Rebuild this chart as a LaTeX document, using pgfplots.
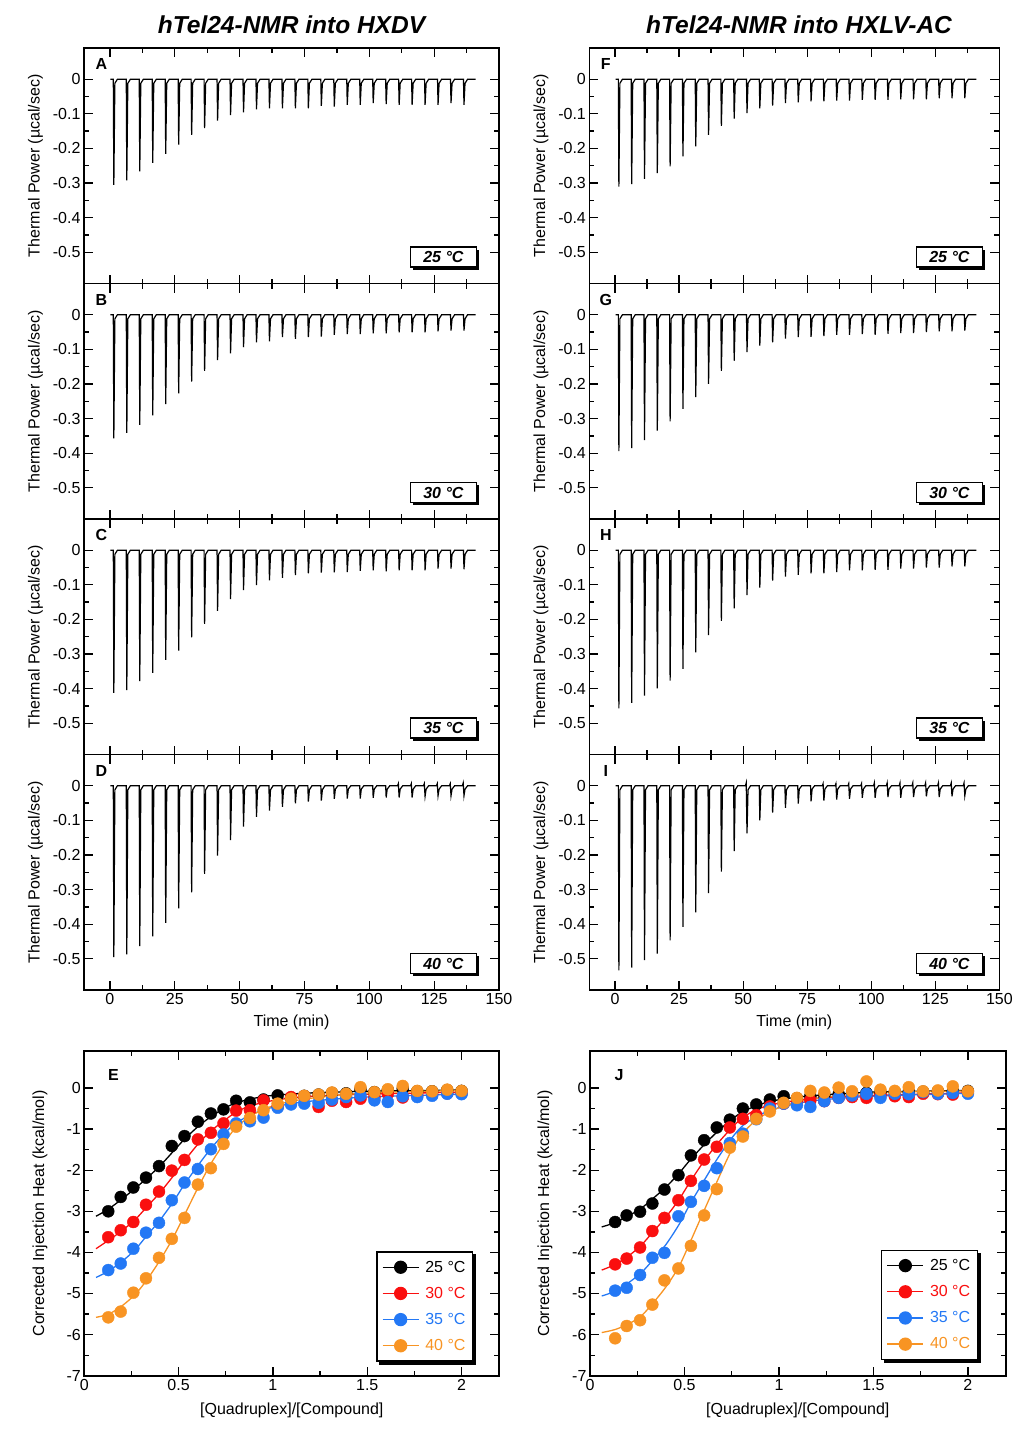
\documentclass[border=0pt]{standalone}
\usepackage{fontspec}
\setmainfont{Liberation Sans}
\usepackage{pgfplots}
\pgfplotsset{compat=1.18}
\usetikzlibrary{shadows}
\definecolor{cred}{RGB}{250,15,15}
\definecolor{cblue}{RGB}{35,120,245}
\definecolor{corange}{RGB}{248,148,35}
\newcommand{\tl}{\fontsize{16}{19}\selectfont}
\newcommand{\lb}{\fontsize{16}{19}\selectfont}
\tikzset{
  tbox/.style={draw=black, line width=1.3pt, fill=white, minimum width=66pt, minimum height=20pt, inner sep=0pt,
    font=\lb\bfseries\itshape, drop shadow={shadow xshift=2.5pt,shadow yshift=-2.5pt,opacity=1,fill=black}},
  plet/.style={font=\lb\bfseries},
}
\pgfplotsset{
  base/.style={scale only axis, anchor=north west,
    axis line style={line width=1.8pt},
    tick style={line width=1.3pt, black},
    major tick length=9pt, minor tick length=5pt,
    /pgf/number format/assume math mode=true,
    tick label style={font=\tl},
    label style={font=\lb},
  },
  thermo/.style={base, height=235.5pt,
    xmin=-10, xmax=150, ymin=-0.59, ymax=0.09,
    xtick={0,25,50,75,100,125,150}, minor x tick num=1,
    ytick={-0.5,-0.4,-0.3,-0.2,-0.1,0}, minor y tick num=1,
    ylabel={Thermal Power (µcal/sec)},
    xlabel={Time (min)},
    xlabel style={at={(axis description cs:0.5,-0.139)},anchor=center},
  },
  nox/.style={xticklabels={}, xlabel={}},
  tline/.style={black, line width=1.2pt},
  iso/.style={base, height=324.7pt,
    xmin=0, xmax=2.2, ymin=-7, ymax=0.9,
    xtick={0,0.5,1,1.5,2}, minor x tick num=1,
    ytick={-7,-6,-5,-4,-3,-2,-1,0}, minor y tick num=1,
    xlabel={[Quadruplex]/[Compound]},
    ylabel={Corrected Injection Heat (kcal/mol)},
    xlabel style={at={(axis description cs:0.5,-0.108)},anchor=center},
    legend cell align=left,
    legend image code/.code={\draw[mark repeat=2,mark phase=2] plot coordinates {(0pt,0pt)(18pt,0pt)(36pt,0pt)};},
  },
  leg/.style={legend style={draw=black, line width=1.3pt,
    fill=white, font=\lb, inner xsep=5pt, inner ysep=7pt, row sep=9.5pt,
    /tikz/every odd column/.append style={column sep=4pt}}},
  fit/.style={line width=1.3pt, smooth, forget plot},
  pts/.style={only marks, mark=*, mark size=6pt, forget plot},
}
\begin{document}
\begin{tikzpicture}
\useasboundingbox (0pt,0pt) rectangle (1029pt,-1436pt);
\node[font=\fontsize{24.5}{28}\selectfont\bfseries\itshape] at (291.5pt,-24.5pt) {hTel24-NMR into HXDV};
\node[font=\fontsize{24.5}{28}\selectfont\bfseries\itshape] at (799pt,-24.5pt) {hTel24-NMR into HXLV-AC};

%% ---------------- A
\begin{axis}[thermo, nox, at={(84pt,-48pt)}, width=415pt,
  ylabel style={at={(axis description cs:-0.117,0.5)},anchor=center}]
\addplot[tline] coordinates {(0.2,0)
(1.3,0)(1.5,-0.305)(1.9,-0.012)(2.9,0)
(6.3,0)(6.5,-0.292)(6.9,-0.012)(7.9,0)
(11.3,0)(11.5,-0.266)(11.9,-0.012)(12.9,0)
(16.3,0)(16.5,-0.242)(16.9,-0.012)(17.9,0)
(21.3,0)(21.5,-0.216)(21.9,-0.012)(22.9,0)
(26.3,0)(26.5,-0.189)(26.9,-0.012)(27.9,0)
(31.3,0)(31.5,-0.161)(31.9,-0.012)(32.9,0)
(36.3,0)(36.5,-0.141)(36.9,-0.012)(37.9,0)
(41.3,0)(41.5,-0.120)(41.9,-0.012)(42.9,0)
(46.3,0)(46.5,-0.104)(46.9,-0.012)(47.9,0)
(51.3,0)(51.5,-0.096)(51.9,-0.012)(52.9,0)
(56.3,0)(56.5,-0.087)(56.9,-0.012)(57.9,0)
(61.3,0)(61.5,-0.084)(61.9,-0.012)(62.9,0)
(66.3,0)(66.5,-0.084)(66.9,-0.012)(67.9,0)
(71.3,0)(71.5,-0.084)(71.9,-0.012)(72.9,0)
(76.3,0)(76.5,-0.084)(76.9,-0.012)(77.9,0)
(81.3,0)(81.5,-0.077)(81.9,-0.012)(82.9,0)
(86.3,0)(86.5,-0.079)(86.9,-0.012)(87.9,0)
(91.3,0)(91.5,-0.074)(91.9,-0.012)(92.9,0)
(96.3,0)(96.5,-0.074)(96.9,-0.012)(97.9,0)
(101.3,0)(101.5,-0.069)(101.9,-0.012)(102.9,0)
(106.3,0)(106.5,-0.072)(106.9,-0.012)(107.9,0)
(111.3,0)(111.5,-0.074)(111.9,-0.012)(112.9,0)
(116.3,0)(116.5,-0.074)(116.9,-0.012)(117.9,0)
(121.3,0)(121.5,-0.074)(121.9,-0.012)(122.9,0)
(126.3,0)(126.5,-0.074)(126.9,-0.012)(127.9,0)
(131.3,0)(131.5,-0.069)(131.9,-0.012)(132.9,0)
(136.3,0)(136.5,-0.074)(136.9,-0.012)(137.9,0)
(141,0)};
\node[plet] at (axis description cs:0.042,0.932) {A};
\node[tbox] at (axis description cs:0.866,0.1125) {25 °C};
\end{axis}

%% ---------------- B
\begin{axis}[thermo, nox, at={(84pt,-283.5pt)}, width=415pt,
  ylabel style={at={(axis description cs:-0.117,0.5)},anchor=center}]
\addplot[tline] coordinates {(0.2,0)
(1.3,0)(1.5,-0.357)(1.9,-0.012)(2.9,0)
(6.3,0)(6.5,-0.341)(6.9,-0.012)(7.9,0)
(11.3,0)(11.5,-0.318)(11.9,-0.012)(12.9,0)
(16.3,0)(16.5,-0.291)(16.9,-0.012)(17.9,0)
(21.3,0)(21.5,-0.258)(21.9,-0.012)(22.9,0)
(26.3,0)(26.5,-0.227)(26.9,-0.012)(27.9,0)
(31.3,0)(31.5,-0.193)(31.9,-0.012)(32.9,0)
(36.3,0)(36.5,-0.162)(36.9,-0.012)(37.9,0)
(41.3,0)(41.5,-0.131)(41.9,-0.012)(42.9,0)
(46.3,0)(46.5,-0.112)(46.9,-0.012)(47.9,0)
(51.3,0)(51.5,-0.094)(51.9,-0.012)(52.9,0)
(56.3,0)(56.5,-0.080)(56.9,-0.012)(57.9,0)
(61.3,0)(61.5,-0.077)(61.9,-0.012)(62.9,0)
(66.3,0)(66.5,-0.065)(66.9,-0.012)(67.9,0)
(71.3,0)(71.5,-0.070)(71.9,-0.012)(72.9,0)
(76.3,0)(76.5,-0.065)(76.9,-0.012)(77.9,0)
(81.3,0)(81.5,-0.063)(81.9,-0.012)(82.9,0)
(86.3,0)(86.5,-0.058)(86.9,-0.012)(87.9,0)
(91.3,0)(91.5,-0.056)(91.9,-0.012)(92.9,0)
(96.3,0)(96.5,-0.056)(96.9,-0.012)(97.9,0)
(101.3,0)(101.5,-0.054)(101.9,-0.012)(102.9,0)
(106.3,0)(106.5,-0.054)(106.9,-0.012)(107.9,0)
(111.3,0)(111.5,-0.051)(111.9,-0.012)(112.9,0)
(116.3,0)(116.5,-0.051)(116.9,-0.012)(117.9,0)
(121.3,0)(121.5,-0.051)(121.9,-0.012)(122.9,0)
(126.3,0)(126.5,-0.048)(126.9,-0.012)(127.9,0)
(131.3,0)(131.5,-0.046)(131.9,-0.012)(132.9,0)
(136.3,0)(136.5,-0.046)(136.9,-0.012)(137.9,0)
(141,0)};
\node[plet] at (axis description cs:0.042,0.932) {B};
\node[tbox] at (axis description cs:0.866,0.1125) {30 °C};
\end{axis}

%% ---------------- C
\begin{axis}[thermo, nox, at={(84pt,-519pt)}, width=415pt,
  ylabel style={at={(axis description cs:-0.117,0.5)},anchor=center}]
\addplot[tline] coordinates {(0.2,0)
(1.3,0)(1.5,-0.412)(1.9,-0.012)(2.9,0)
(6.3,0)(6.5,-0.404)(6.9,-0.012)(7.9,0)
(11.3,0)(11.5,-0.378)(11.9,-0.012)(12.9,0)
(16.3,0)(16.5,-0.354)(16.9,-0.012)(17.9,0)
(21.3,0)(21.5,-0.317)(21.9,-0.012)(22.9,0)
(26.3,0)(26.5,-0.290)(26.9,-0.012)(27.9,0)
(31.3,0)(31.5,-0.252)(31.9,-0.012)(32.9,0)
(36.3,0)(36.5,-0.213)(36.9,-0.012)(37.9,0)
(41.3,0)(41.5,-0.175)(41.9,-0.012)(42.9,0)
(46.3,0)(46.5,-0.141)(46.9,-0.012)(47.9,0)
(51.3,0)(51.5,-0.115)(51.9,-0.012)(52.9,0)
(56.3,0)(56.5,-0.101)(56.9,-0.012)(57.9,0)
(61.3,0)(61.5,-0.087)(61.9,-0.012)(62.9,0)
(66.3,0)(66.5,-0.080)(66.9,-0.012)(67.9,0)
(71.3,0)(71.5,-0.072)(71.9,-0.012)(72.9,0)
(76.3,0)(76.5,-0.067)(76.9,-0.012)(77.9,0)
(81.3,0)(81.5,-0.065)(81.9,-0.012)(82.9,0)
(86.3,0)(86.5,-0.064)(86.9,-0.012)(87.9,0)
(91.3,0)(91.5,-0.063)(91.9,-0.012)(92.9,0)
(96.3,0)(96.5,-0.060)(96.9,-0.012)(97.9,0)
(101.3,0)(101.5,-0.058)(101.9,-0.012)(102.9,0)
(106.3,0)(106.5,-0.061)(106.9,-0.012)(107.9,0)
(111.3,0)(111.5,-0.058)(111.9,-0.012)(112.9,0)
(116.3,0)(116.5,-0.058)(116.9,-0.012)(117.9,0)
(121.3,0)(121.5,-0.058)(121.9,-0.012)(122.9,0)
(126.3,0)(126.5,-0.053)(126.9,-0.012)(127.9,0)
(131.3,0)(131.5,-0.053)(131.9,-0.012)(132.9,0)
(136.3,0)(136.5,-0.055)(136.9,-0.012)(137.9,0)
(141,0)};
\node[plet] at (axis description cs:0.042,0.932) {C};
\node[tbox] at (axis description cs:0.866,0.1125) {35 °C};
\end{axis}

%% ---------------- D
\begin{axis}[thermo, at={(84pt,-754.5pt)}, width=415pt,
  ylabel style={at={(axis description cs:-0.117,0.5)},anchor=center}]
\addplot[tline] coordinates {(0.2,0)
(1.3,0)(1.5,-0.495)(1.9,-0.012)(2.9,0)
(6.3,0)(6.5,-0.487)(6.9,-0.012)(7.9,0)
(11.3,0)(11.5,-0.463)(11.9,-0.012)(12.9,0)
(16.3,0)(16.5,-0.435)(16.9,-0.012)(17.9,0)
(21.3,0)(21.5,-0.396)(21.9,-0.012)(22.9,0)
(26.3,0)(26.5,-0.354)(26.9,-0.012)(27.9,0)
(31.3,0)(31.5,-0.308)(31.9,-0.012)(32.9,0)
(36.3,0)(36.5,-0.255)(36.9,-0.012)(37.9,0)
(41.3,0)(41.5,-0.202)(41.9,-0.012)(42.9,0)
(46.3,0)(46.5,-0.157)(46.9,-0.012)(47.9,0)
(51.3,0)(51.5,-0.118)(51.9,-0.012)(52.9,0)
(56.3,0)(56.5,-0.090)(56.9,-0.012)(57.9,0)
(61.3,0)(61.5,-0.072)(61.9,-0.012)(62.9,0)
(66.3,0)(66.5,-0.061)(66.9,-0.012)(67.9,0)
(71.3,0)(71.5,-0.051)(71.9,-0.012)(72.9,0)
(76.3,0)(76.5,-0.046)(76.9,-0.012)(77.9,0)
(81.3,0)(81.5,-0.043)(81.9,-0.012)(82.9,0)
(86.3,0)(86.5,-0.038)(86.9,-0.010)(87.9,0)
(91.3,0)(91.5,-0.037)(91.9,-0.010)(92.9,0)
(96.3,0)(96.5,-0.037)(96.9,-0.010)(97.9,0)
(101.3,0)(101.5,-0.035)(101.9,-0.010)(102.9,0)
(106.3,0)(106.5,-0.034)(106.9,-0.010)(107.9,0)
(110.9,0)(111.2,0.006)(111.5,-0.034)(111.9,-0.010)(112.9,0)
(115.9,0)(116.2,0.006)(116.5,-0.034)(116.9,-0.010)(117.9,0)
(120.9,0)(121.2,0.006)(121.5,-0.031)(121.9,-0.010)(122.9,0)
(125.9,0)(126.2,0.006)(126.5,-0.029)(126.9,-0.010)(127.9,0)
(130.9,0)(131.2,0.006)(131.5,-0.029)(131.9,-0.010)(132.9,0)
(135.9,0)(136.2,0.008)(136.5,-0.029)(136.9,-0.010)(137.9,0)
(141,0)};
\node[plet] at (axis description cs:0.042,0.932) {D};
\node[tbox] at (axis description cs:0.866,0.1125) {40 °C};
\end{axis}

%% ---------------- F
\begin{axis}[thermo, nox, at={(589.4pt,-48pt)}, width=410pt,
  ylabel style={at={(axis description cs:-0.118,0.5)},anchor=center}]
\addplot[tline] coordinates {(0.2,0)
(1.3,0)(1.5,-0.310)(1.9,-0.012)(2.9,0)
(6.3,0)(6.5,-0.303)(6.9,-0.012)(7.9,0)
(11.3,0)(11.5,-0.288)(11.9,-0.012)(12.9,0)
(16.3,0)(16.5,-0.271)(16.9,-0.012)(17.9,0)
(21.3,0)(21.5,-0.252)(21.9,-0.012)(22.9,0)
(26.3,0)(26.5,-0.223)(26.9,-0.012)(27.9,0)
(31.3,0)(31.5,-0.194)(31.9,-0.012)(32.9,0)
(36.3,0)(36.5,-0.161)(36.9,-0.012)(37.9,0)
(41.3,0)(41.5,-0.135)(41.9,-0.012)(42.9,0)
(46.3,0)(46.5,-0.114)(46.9,-0.012)(47.9,0)
(51.3,0)(51.5,-0.098)(51.9,-0.012)(52.9,0)
(56.3,0)(56.5,-0.084)(56.9,-0.012)(57.9,0)
(61.3,0)(61.5,-0.076)(61.9,-0.012)(62.9,0)
(66.3,0)(66.5,-0.069)(66.9,-0.012)(67.9,0)
(71.3,0)(71.5,-0.067)(71.9,-0.012)(72.9,0)
(76.3,0)(76.5,-0.064)(76.9,-0.012)(77.9,0)
(81.3,0)(81.5,-0.064)(81.9,-0.012)(82.9,0)
(86.3,0)(86.5,-0.062)(86.9,-0.012)(87.9,0)
(91.3,0)(91.5,-0.062)(91.9,-0.012)(92.9,0)
(96.3,0)(96.5,-0.060)(96.9,-0.012)(97.9,0)
(101.3,0)(101.5,-0.060)(101.9,-0.012)(102.9,0)
(106.3,0)(106.5,-0.060)(106.9,-0.012)(107.9,0)
(111.3,0)(111.5,-0.058)(111.9,-0.012)(112.9,0)
(116.3,0)(116.5,-0.058)(116.9,-0.012)(117.9,0)
(121.3,0)(121.5,-0.058)(121.9,-0.012)(122.9,0)
(126.3,0)(126.5,-0.055)(126.9,-0.012)(127.9,0)
(131.3,0)(131.5,-0.055)(131.9,-0.012)(132.9,0)
(136.3,0)(136.5,-0.055)(136.9,-0.012)(137.9,0)
(141,0)};
\node[plet] at (axis description cs:0.040,0.932) {F};
\node[tbox] at (axis description cs:0.878,0.1125) {25 °C};
\end{axis}

%% ---------------- G
\begin{axis}[thermo, nox, at={(589.4pt,-283.5pt)}, width=410pt,
  ylabel style={at={(axis description cs:-0.118,0.5)},anchor=center}]
\addplot[tline] coordinates {(0.2,0)
(1.3,0)(1.5,-0.394)(1.9,-0.012)(2.9,0)
(6.3,0)(6.5,-0.385)(6.9,-0.012)(7.9,0)
(11.3,0)(11.5,-0.362)(11.9,-0.012)(12.9,0)
(16.3,0)(16.5,-0.335)(16.9,-0.012)(17.9,0)
(21.3,0)(21.5,-0.308)(21.9,-0.012)(22.9,0)
(26.3,0)(26.5,-0.272)(26.9,-0.012)(27.9,0)
(31.3,0)(31.5,-0.238)(31.9,-0.012)(32.9,0)
(36.3,0)(36.5,-0.200)(36.9,-0.012)(37.9,0)
(41.3,0)(41.5,-0.162)(41.9,-0.012)(42.9,0)
(46.3,0)(46.5,-0.133)(46.9,-0.012)(47.9,0)
(51.3,0)(51.5,-0.108)(51.9,-0.012)(52.9,0)
(56.3,0)(56.5,-0.089)(56.9,-0.012)(57.9,0)
(61.3,0)(61.5,-0.080)(61.9,-0.012)(62.9,0)
(66.3,0)(66.5,-0.069)(66.9,-0.012)(67.9,0)
(71.3,0)(71.5,-0.065)(71.9,-0.012)(72.9,0)
(76.3,0)(76.5,-0.064)(76.9,-0.012)(77.9,0)
(81.3,0)(81.5,-0.062)(81.9,-0.012)(82.9,0)
(86.3,0)(86.5,-0.058)(86.9,-0.012)(87.9,0)
(91.3,0)(91.5,-0.058)(91.9,-0.012)(92.9,0)
(96.3,0)(96.5,-0.056)(96.9,-0.012)(97.9,0)
(101.3,0)(101.5,-0.058)(101.9,-0.012)(102.9,0)
(106.3,0)(106.5,-0.055)(106.9,-0.012)(107.9,0)
(111.3,0)(111.5,-0.053)(111.9,-0.012)(112.9,0)
(116.3,0)(116.5,-0.053)(116.9,-0.012)(117.9,0)
(121.3,0)(121.5,-0.050)(121.9,-0.012)(122.9,0)
(126.3,0)(126.5,-0.048)(126.9,-0.012)(127.9,0)
(131.3,0)(131.5,-0.048)(131.9,-0.012)(132.9,0)
(136.3,0)(136.5,-0.046)(136.9,-0.012)(137.9,0)
(141,0)};
\node[plet] at (axis description cs:0.040,0.932) {G};
\node[tbox] at (axis description cs:0.878,0.1125) {30 °C};
\end{axis}

%% ---------------- H
\begin{axis}[thermo, nox, at={(589.4pt,-519pt)}, width=410pt,
  ylabel style={at={(axis description cs:-0.118,0.5)},anchor=center}]
\addplot[tline] coordinates {(0.2,0)
(1.3,0)(1.5,-0.457)(1.9,-0.012)(2.9,0)
(6.3,0)(6.5,-0.441)(6.9,-0.012)(7.9,0)
(11.3,0)(11.5,-0.420)(11.9,-0.012)(12.9,0)
(16.3,0)(16.5,-0.399)(16.9,-0.012)(17.9,0)
(21.3,0)(21.5,-0.377)(21.9,-0.012)(22.9,0)
(26.3,0)(26.5,-0.343)(26.9,-0.012)(27.9,0)
(31.3,0)(31.5,-0.295)(31.9,-0.012)(32.9,0)
(36.3,0)(36.5,-0.245)(36.9,-0.012)(37.9,0)
(41.3,0)(41.5,-0.204)(41.9,-0.012)(42.9,0)
(46.3,0)(46.5,-0.168)(46.9,-0.012)(47.9,0)
(51.3,0)(51.5,-0.130)(51.9,-0.012)(52.9,0)
(56.3,0)(56.5,-0.108)(56.9,-0.012)(57.9,0)
(61.3,0)(61.5,-0.088)(61.9,-0.012)(62.9,0)
(66.3,0)(66.5,-0.076)(66.9,-0.012)(67.9,0)
(71.3,0)(71.5,-0.071)(71.9,-0.012)(72.9,0)
(76.3,0)(76.5,-0.067)(76.9,-0.012)(77.9,0)
(81.3,0)(81.5,-0.067)(81.9,-0.012)(82.9,0)
(86.3,0)(86.5,-0.063)(86.9,-0.012)(87.9,0)
(91.3,0)(91.5,-0.058)(91.9,-0.012)(92.9,0)
(96.3,0)(96.5,-0.058)(96.9,-0.012)(97.9,0)
(101.3,0)(101.5,-0.057)(101.9,-0.012)(102.9,0)
(106.3,0)(106.5,-0.057)(106.9,-0.012)(107.9,0)
(111.3,0)(111.5,-0.053)(111.9,-0.012)(112.9,0)
(116.3,0)(116.5,-0.053)(116.9,-0.012)(117.9,0)
(121.3,0)(121.5,-0.050)(121.9,-0.012)(122.9,0)
(126.3,0)(126.5,-0.050)(126.9,-0.012)(127.9,0)
(131.3,0)(131.5,-0.047)(131.9,-0.012)(132.9,0)
(136.3,0)(136.5,-0.047)(136.9,-0.012)(137.9,0)
(141,0)};
\node[plet] at (axis description cs:0.040,0.932) {H};
\node[tbox] at (axis description cs:0.878,0.1125) {35 °C};
\end{axis}

%% ---------------- I
\begin{axis}[thermo, at={(589.4pt,-754.5pt)}, width=410pt,
  ylabel style={at={(axis description cs:-0.118,0.5)},anchor=center}]
\addplot[tline] coordinates {(0.2,0)
(1.3,0)(1.5,-0.533)(1.9,-0.012)(2.9,0)
(6.3,0)(6.5,-0.525)(6.9,-0.012)(7.9,0)
(11.3,0)(11.5,-0.504)(11.9,-0.012)(12.9,0)
(16.3,0)(16.5,-0.485)(16.9,-0.012)(17.9,0)
(21.3,0)(21.5,-0.447)(21.9,-0.012)(22.9,0)
(26.3,0)(26.5,-0.408)(26.9,-0.012)(27.9,0)
(31.3,0)(31.5,-0.366)(31.9,-0.012)(32.9,0)
(36.3,0)(36.5,-0.310)(36.9,-0.012)(37.9,0)
(41.3,0)(41.5,-0.248)(41.9,-0.012)(42.9,0)
(46.3,0)(46.5,-0.189)(46.9,-0.012)(47.9,0)
(50.9,0)(51.2,0.008)(51.5,-0.138)(51.9,-0.012)(52.9,0)
(56.3,0)(56.5,-0.100)(56.9,-0.012)(57.9,0)
(61.3,0)(61.5,-0.078)(61.9,-0.012)(62.9,0)
(66.3,0)(66.5,-0.064)(66.9,-0.012)(67.9,0)
(71.3,0)(71.5,-0.052)(71.9,-0.010)(72.9,0)
(76.3,0)(76.5,-0.045)(76.9,-0.010)(77.9,0)
(80.9,0)(81.2,0.006)(81.5,-0.043)(81.9,-0.010)(82.9,0)
(85.9,0)(86.2,0.006)(86.5,-0.040)(86.9,-0.010)(87.9,0)
(90.9,0)(91.2,0.006)(91.5,-0.038)(91.9,-0.010)(92.9,0)
(95.9,0)(96.2,0.006)(96.5,-0.035)(96.9,-0.010)(97.9,0)
(100.9,0)(101.2,0.008)(101.5,-0.035)(101.9,-0.010)(102.9,0)
(105.9,0)(106.2,0.008)(106.5,-0.033)(106.9,-0.010)(107.9,0)
(110.9,0)(111.2,0.008)(111.5,-0.035)(111.9,-0.010)(112.9,0)
(115.9,0)(116.2,0.008)(116.5,-0.033)(116.9,-0.010)(117.9,0)
(120.9,0)(121.2,0.008)(121.5,-0.031)(121.9,-0.010)(122.9,0)
(125.9,0)(126.2,0.008)(126.5,-0.033)(126.9,-0.010)(127.9,0)
(130.9,0)(131.2,0.008)(131.5,-0.031)(131.9,-0.010)(132.9,0)
(135.9,0)(136.2,0.008)(136.5,-0.029)(136.9,-0.010)(137.9,0)
(141,0)};
\node[plet] at (axis description cs:0.040,0.932) {I};
\node[tbox] at (axis description cs:0.878,0.1125) {40 °C};
\end{axis}

%% ---------------- E
\begin{axis}[iso, leg, at={(84.3pt,-1051pt)}, width=415pt,
  ylabel style={at={(axis description cs:-0.1067,0.5)},anchor=center},
  legend style={at={(axis description cs:0.937,0.043)}, anchor=south east, name=legE}]
\addplot[fit, black] coordinates {(0.062,-3.12)(0.127,-2.95)(0.2,-2.70)(0.27,-2.44)(0.33,-2.2)(0.4,-1.9)(0.47,-1.55)(0.53,-1.25)(0.6,-0.95)(0.67,-0.7)(0.74,-0.5)(0.8,-0.37)(0.9,-0.25)(1.0,-0.18)(1.2,-0.12)(1.5,-0.08)(2.0,-0.05)};
\addplot[pts, black, mark options={fill=black, draw=black}] coordinates {(0.127,-3.00)(0.193,-2.65)(0.260,-2.42)(0.327,-2.18)(0.396,-1.90)(0.464,-1.41)(0.531,-1.17)(0.602,-0.82)(0.671,-0.62)(0.738,-0.52)(0.805,-0.31)(0.878,-0.35)(0.950,-0.28)(1.025,-0.18)(1.096,-0.24)(1.166,-0.19)(1.242,-0.16)(1.313,-0.12)(1.388,-0.13)(1.464,-0.04)(1.538,-0.10)(1.609,-0.05)(1.688,-0.02)(1.765,-0.08)(1.844,-0.08)(1.924,-0.05)(2.000,-0.07)};
\addplot[fit, cred] coordinates {(0.062,-3.91)(0.13,-3.7)(0.2,-3.47)(0.27,-3.2)(0.33,-2.9)(0.4,-2.55)(0.47,-2.15)(0.53,-1.78)(0.6,-1.38)(0.67,-1.05)(0.74,-0.8)(0.8,-0.6)(0.87,-0.45)(0.95,-0.35)(1.05,-0.27)(1.2,-0.2)(1.5,-0.15)(2.0,-0.1)};
\addplot[pts, cred, mark options={fill=cred, draw=cred}] coordinates {(0.127,-3.63)(0.193,-3.46)(0.260,-3.26)(0.327,-2.84)(0.396,-2.52)(0.464,-2.01)(0.531,-1.75)(0.602,-1.25)(0.671,-1.09)(0.738,-0.86)(0.805,-0.55)(0.878,-0.54)(0.950,-0.30)(1.025,-0.45)(1.096,-0.22)(1.166,-0.20)(1.242,-0.46)(1.313,-0.31)(1.388,-0.34)(1.464,-0.26)(1.538,-0.22)(1.609,-0.14)(1.688,-0.23)(1.765,-0.18)(1.844,-0.15)(1.924,-0.13)(2.000,-0.12)};
\addplot[fit, cblue] coordinates {(0.062,-4.61)(0.13,-4.45)(0.2,-4.22)(0.27,-3.93)(0.33,-3.6)(0.4,-3.22)(0.47,-2.78)(0.53,-2.35)(0.6,-1.9)(0.67,-1.48)(0.74,-1.12)(0.8,-0.87)(0.87,-0.68)(0.95,-0.53)(1.05,-0.42)(1.2,-0.32)(1.5,-0.22)(2.0,-0.15)};
\addplot[pts, cblue, mark options={fill=cblue, draw=cblue}] coordinates {(0.127,-4.43)(0.193,-4.27)(0.260,-3.91)(0.327,-3.52)(0.396,-3.28)(0.464,-2.73)(0.531,-2.30)(0.602,-1.97)(0.671,-1.49)(0.738,-1.13)(0.805,-0.86)(0.878,-0.81)(0.950,-0.72)(1.025,-0.48)(1.096,-0.40)(1.166,-0.38)(1.242,-0.36)(1.313,-0.28)(1.388,-0.22)(1.464,-0.18)(1.538,-0.30)(1.609,-0.34)(1.688,-0.20)(1.765,-0.22)(1.844,-0.19)(1.924,-0.14)(2.000,-0.15)};
\addplot[fit, corange] coordinates {(0.062,-5.58)(0.13,-5.5)(0.2,-5.3)(0.27,-5.02)(0.33,-4.68)(0.4,-4.2)(0.47,-3.65)(0.53,-3.1)(0.6,-2.45)(0.67,-1.85)(0.74,-1.35)(0.8,-0.98)(0.87,-0.72)(0.95,-0.52)(1.05,-0.37)(1.2,-0.25)(1.5,-0.12)(2.0,-0.06)};
\addplot[pts, corange, mark options={fill=corange, draw=corange}] coordinates {(0.127,-5.58)(0.193,-5.44)(0.260,-4.98)(0.327,-4.63)(0.396,-4.13)(0.464,-3.67)(0.531,-3.16)(0.602,-2.35)(0.671,-1.95)(0.738,-1.36)(0.805,-0.94)(0.878,-0.73)(0.950,-0.54)(1.025,-0.38)(1.096,-0.26)(1.166,-0.19)(1.242,-0.16)(1.313,-0.11)(1.388,-0.14)(1.464,0.02)(1.538,-0.10)(1.609,-0.03)(1.688,0.05)(1.765,-0.07)(1.844,-0.08)(1.924,-0.04)(2.000,-0.07)};
\addlegendimage{black, line width=1.3pt, mark=*, mark size=6pt, mark options={fill=black}}
\addlegendentry{25 °C}
\addlegendimage{cred, line width=1.3pt, mark=*, mark size=6pt, mark options={fill=cred}}
\addlegendentry{\textcolor{cred}{30 °C}}
\addlegendimage{cblue, line width=1.3pt, mark=*, mark size=6pt, mark options={fill=cblue}}
\addlegendentry{\textcolor{cblue}{35 °C}}
\addlegendimage{corange, line width=1.3pt, mark=*, mark size=6pt, mark options={fill=corange}}
\addlegendentry{\textcolor{corange}{40 °C}}
\node[plet] at (axis description cs:0.070,0.926) {E};
\end{axis}
\fill[black] ([yshift=-3pt]legE.north east) rectangle ([xshift=3pt,yshift=-3pt]legE.south east);
\fill[black] ([xshift=3pt]legE.south west) rectangle ([xshift=3pt,yshift=-3pt]legE.south east);

%% ---------------- J
\begin{axis}[iso, leg, at={(590pt,-1051pt)}, width=415.7pt,
  ylabel style={at={(axis description cs:-0.108,0.5)},anchor=center},
  legend style={at={(axis description cs:0.933,0.048)}, anchor=south east, name=legJ}]
\addplot[fit, black] coordinates {(0.062,-3.38)(0.13,-3.28)(0.2,-3.12)(0.27,-2.93)(0.33,-2.7)(0.4,-2.42)(0.47,-2.08)(0.53,-1.75)(0.6,-1.4)(0.67,-1.08)(0.74,-0.8)(0.8,-0.6)(0.87,-0.45)(0.95,-0.33)(1.05,-0.25)(1.2,-0.18)(1.5,-0.1)(2.0,-0.06)};
\addplot[pts, black, mark options={fill=black, draw=black}] coordinates {(0.133,-3.26)(0.194,-3.10)(0.265,-3.01)(0.330,-2.81)(0.394,-2.47)(0.468,-2.12)(0.534,-1.64)(0.604,-1.27)(0.671,-0.96)(0.740,-0.77)(0.809,-0.50)(0.880,-0.40)(0.952,-0.28)(1.025,-0.20)(1.095,-0.25)(1.166,-0.20)(1.240,-0.18)(1.316,-0.15)(1.387,-0.13)(1.463,-0.12)(1.537,-0.11)(1.613,-0.10)(1.687,-0.09)(1.763,-0.09)(1.841,-0.08)(1.920,-0.08)(2.000,-0.07)};
\addplot[fit, cred] coordinates {(0.062,-4.43)(0.13,-4.3)(0.2,-4.1)(0.27,-3.83)(0.33,-3.52)(0.4,-3.15)(0.47,-2.72)(0.53,-2.28)(0.6,-1.8)(0.67,-1.38)(0.74,-1.02)(0.8,-0.75)(0.87,-0.55)(0.95,-0.42)(1.05,-0.33)(1.2,-0.25)(1.5,-0.18)(2.0,-0.12)};
\addplot[pts, cred, mark options={fill=cred, draw=cred}] coordinates {(0.133,-4.29)(0.194,-4.15)(0.265,-3.88)(0.330,-3.48)(0.394,-3.16)(0.468,-2.73)(0.534,-2.26)(0.604,-1.74)(0.671,-1.43)(0.740,-0.96)(0.809,-0.75)(0.880,-0.66)(0.952,-0.45)(1.025,-0.38)(1.095,-0.34)(1.166,-0.30)(1.240,-0.32)(1.316,-0.24)(1.387,-0.22)(1.463,-0.24)(1.537,-0.18)(1.613,-0.20)(1.687,-0.22)(1.763,-0.14)(1.841,-0.15)(1.920,-0.16)(2.000,-0.10)};
\addplot[fit, cblue] coordinates {(0.062,-5.06)(0.13,-4.95)(0.2,-4.75)(0.27,-4.5)(0.33,-4.2)(0.4,-3.82)(0.47,-3.33)(0.53,-2.82)(0.6,-2.28)(0.67,-1.75)(0.74,-1.28)(0.8,-0.95)(0.87,-0.72)(0.95,-0.55)(1.05,-0.42)(1.2,-0.3)(1.5,-0.2)(2.0,-0.13)};
\addplot[pts, cblue, mark options={fill=cblue, draw=cblue}] coordinates {(0.133,-4.93)(0.194,-4.86)(0.265,-4.55)(0.330,-4.13)(0.394,-4.01)(0.468,-3.12)(0.534,-2.77)(0.604,-2.38)(0.671,-1.95)(0.740,-1.34)(0.809,-1.11)(0.880,-0.76)(0.952,-0.50)(1.025,-0.38)(1.095,-0.42)(1.166,-0.46)(1.240,-0.32)(1.316,-0.24)(1.387,-0.18)(1.463,-0.14)(1.537,-0.24)(1.613,-0.14)(1.687,-0.15)(1.763,-0.10)(1.841,-0.14)(1.920,-0.12)(2.000,-0.14)};
\addplot[fit, corange] coordinates {(0.062,-5.95)(0.13,-5.88)(0.2,-5.75)(0.27,-5.55)(0.33,-5.25)(0.4,-4.85)(0.47,-4.35)(0.53,-3.75)(0.6,-3.02)(0.67,-2.3)(0.74,-1.6)(0.8,-1.15)(0.87,-0.82)(0.95,-0.58)(1.05,-0.4)(1.2,-0.25)(1.5,-0.12)(2.0,-0.07)};
\addplot[pts, corange, mark options={fill=corange, draw=corange}] coordinates {(0.133,-6.09)(0.194,-5.79)(0.265,-5.65)(0.330,-5.27)(0.394,-4.68)(0.468,-4.39)(0.534,-3.84)(0.604,-3.10)(0.671,-2.46)(0.740,-1.45)(0.809,-1.18)(0.880,-0.75)(0.952,-0.57)(1.025,-0.36)(1.095,-0.24)(1.166,-0.07)(1.240,-0.11)(1.316,0.01)(1.387,-0.08)(1.463,0.16)(1.537,-0.04)(1.613,-0.07)(1.687,0.02)(1.763,-0.08)(1.841,-0.06)(1.920,0.04)(2.000,-0.08)};
\addlegendimage{black, line width=1.3pt, mark=*, mark size=6pt, mark options={fill=black}}
\addlegendentry{25 °C}
\addlegendimage{cred, line width=1.3pt, mark=*, mark size=6pt, mark options={fill=cred}}
\addlegendentry{\textcolor{cred}{30 °C}}
\addlegendimage{cblue, line width=1.3pt, mark=*, mark size=6pt, mark options={fill=cblue}}
\addlegendentry{\textcolor{cblue}{35 °C}}
\addlegendimage{corange, line width=1.3pt, mark=*, mark size=6pt, mark options={fill=corange}}
\addlegendentry{\textcolor{corange}{40 °C}}
\node[plet] at (axis description cs:0.070,0.926) {J};
\end{axis}
\fill[black] ([yshift=-3pt]legJ.north east) rectangle ([xshift=3pt,yshift=-3pt]legJ.south east);
\fill[black] ([xshift=3pt]legJ.south west) rectangle ([xshift=3pt,yshift=-3pt]legJ.south east);
\end{tikzpicture}
\end{document}
